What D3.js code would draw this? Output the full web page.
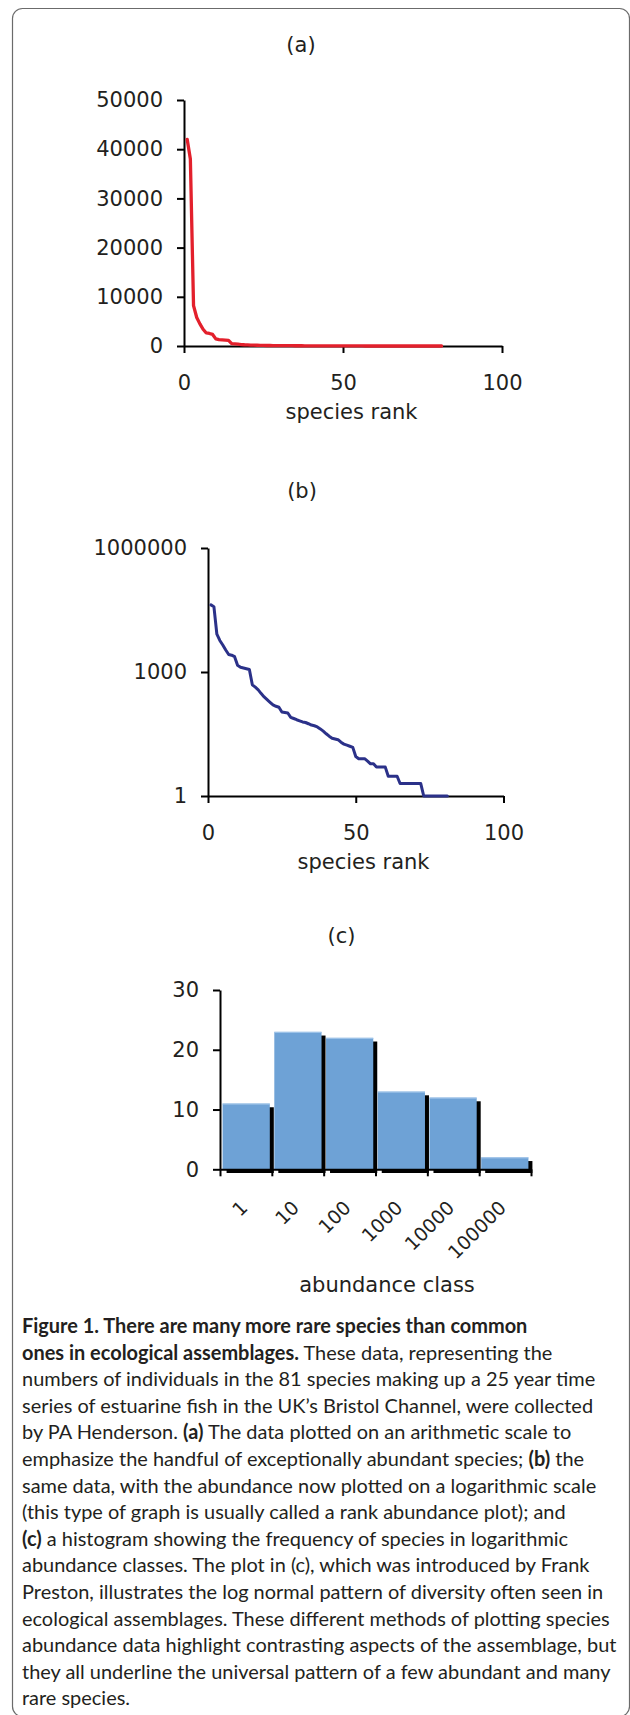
<!DOCTYPE html>
<html>
<head>
<meta charset="utf-8">
<script src="https://cdn.jsdelivr.net/npm/d3@7"></script>
<style>
  html, body { margin: 0; padding: 0; background: #fff; }
  svg { display: block; }
  .chart text { font-family: "DejaVu Sans", Verdana, sans-serif; fill: #231f20; }
  .caption text { font-family: Lato, "Noto Sans", sans-serif; fill: #231f20; white-space: pre; }
</style>
</head>
<body>
<div id="fig"></div>
<script>
// number of individuals per species, ranked (81 species)
const abundance = [42000, 38000, 8200, 5800, 4500, 3400, 2650, 2550, 2350, 1450,
  1300, 1250, 1200, 1150, 490, 430, 370, 300, 250, 215,
  185, 160, 148, 140, 108, 105, 102, 80, 75, 70,
  66, 62, 60, 56, 52, 50, 47, 42, 37, 32,
  28, 25, 24, 23, 20, 18, 17, 16, 15, 9,
  8, 8, 8, 7, 6, 6, 5, 5, 5, 5,
  3, 3, 3, 3, 2, 2, 2, 2, 2, 2,
  2, 2, 1, 1, 1, 1, 1, 1, 1, 1, 1];

// histogram of species per abundance class
const classLabels = ["1", "10", "100", "1000", "10000", "100000"];
const classCounts = [11, 23, 22, 13, 12, 2];

const rankTicks = [0, 50, 100];
const linTicks = [0, 10000, 20000, 30000, 40000, 50000];
const logTicks = [1, 1000, 1000000];
const countTicks = [0, 10, 20, 30];

const captionLines = [
  [["Figure 1. There are many more rare species than common", true]],
  [["ones in ecological assemblages.", true], [" These data, representing the", false]],
  [["numbers of individuals in the 81 species making up a 25 year time", false]],
  [["series of estuarine fish in the UK\u2019s Bristol Channel, were collected", false]],
  [["by PA Henderson. ", false], ["(a)", true], [" The data plotted on an arithmetic scale to", false]],
  [["emphasize the handful of exceptionally abundant species; ", false], ["(b)", true], [" the", false]],
  [["same data, with the abundance now plotted on a logarithmic scale", false]],
  [["(this type of graph is usually called a rank abundance plot); and", false]],
  [["(c)", true], [" a histogram showing the frequency of species in logarithmic", false]],
  [["abundance classes. The plot in (c), which was introduced by Frank", false]],
  [["Preston, illustrates the log normal pattern of diversity often seen in", false]],
  [["ecological assemblages. These different methods of plotting species", false]],
  [["abundance data highlight contrasting aspects of the assemblage, but", false]],
  [["they all underline the universal pattern of a few abundant and many", false]],
  [["rare species.", false]]
];

const W = 630, H = 1715;
const svg = d3.select("#fig").append("svg")
  .attr("width", W).attr("height", H)
  .attr("viewBox", `0 0 ${W} ${H}`);

// rounded frame, cut off at right and bottom
svg.append("rect")
  .attr("x", 12.5).attr("y", 8.5)
  .attr("width", 617).attr("height", 1708)
  .attr("rx", 10)
  .attr("fill", "none").attr("stroke", "#6b6b6b").attr("stroke-width", 1.2);

const chart = svg.append("g").attr("class", "chart");

function styleAxis(g, size) {
  g.attr("font-size", null).attr("font-family", null);
  g.selectAll(".domain, .tick line").attr("stroke", "#000").attr("stroke-width", 2);
  g.selectAll(".tick text").attr("font-size", size || 21);
}

function title(txt, x, y) {
  chart.append("text").attr("x", x).attr("y", y)
    .attr("text-anchor", "middle").attr("font-size", 21).text(txt);
}

// ---------- (a) arithmetic scale ----------
const xA = d3.scaleLinear().domain([0, 100]).range([184, 502]);
const yA = d3.scaleLinear().domain([0, 50000]).range([346, 100]);

title("(a)", 301, 51.5);

chart.append("g").attr("transform", `translate(0,${yA(0)})`)
  .call(d3.axisBottom(xA).tickValues(rankTicks).tickSize(7).tickPadding(22).tickSizeOuter(0))
  .call(styleAxis);
chart.append("g").attr("transform", `translate(${xA(0)},0)`)
  .call(d3.axisLeft(yA).tickValues(linTicks).tickSize(7).tickPadding(14).tickSizeOuter(0).tickFormat(d3.format("d")))
  .call(styleAxis);

chart.append("path")
  .datum(abundance)
  .attr("fill", "none").attr("stroke", "#e3202c").attr("stroke-width", 3.3)
  .attr("stroke-linejoin", "round").attr("stroke-linecap", "round")
  .attr("d", d3.line().x((d, i) => xA(i + 1)).y(d => yA(d)));

title("species rank", 351.5, 419);

// ---------- (b) logarithmic scale ----------
const xB = d3.scaleLinear().domain([0, 100]).range([208, 503.5]);
const yB = d3.scaleLog().domain([1, 1000000]).range([796, 548]);

title("(b)", 302, 498);

chart.append("g").attr("transform", `translate(0,${yB(1)})`)
  .call(d3.axisBottom(xB).tickValues(rankTicks).tickSize(7).tickPadding(22).tickSizeOuter(0))
  .call(styleAxis);
chart.append("g").attr("transform", `translate(${xB(0)},0)`)
  .call(d3.axisLeft(yB).tickValues(logTicks).tickSize(7).tickPadding(14).tickSizeOuter(0).tickFormat(d3.format("d")))
  .call(styleAxis);

chart.append("path")
  .datum(abundance)
  .attr("fill", "none").attr("stroke", "#2b3189").attr("stroke-width", 3)
  .attr("stroke-linejoin", "round").attr("stroke-linecap", "round")
  .attr("d", d3.line().x((d, i) => xB(i + 1)).y(d => yB(d)));

title("species rank", 363.5, 869);

// ---------- (c) histogram ----------
const xC = d3.scaleBand().domain(classLabels).range([220, 531]).paddingInner(0.087).paddingOuter(0.05);
const xCedge = d3.scaleLinear().domain([0, classLabels.length]).range([220, 531]);
const yC = d3.scaleLinear().domain([0, 30]).range([1169.3, 990]);
const bars = classLabels.map((c, i) => ({ c, v: classCounts[i] }));

title("(c)", 341.5, 943);

// drop shadows
chart.append("g").selectAll("rect")
  .data(bars).join("rect")
  .attr("x", d => xC(d.c) + 4).attr("y", d => yC(d.v) + 3.7)
  .attr("width", xC.bandwidth()).attr("height", d => yC(0) - yC(d.v))
  .attr("fill", "#000");

chart.append("g").selectAll("rect")
  .data(bars).join("rect")
  .attr("x", d => xC(d.c)).attr("y", d => yC(d.v))
  .attr("width", xC.bandwidth()).attr("height", d => yC(0) - yC(d.v))
  .attr("fill", "#6ea2d6");

chart.append("g").selectAll("line")
  .data(bars).join("line")
  .attr("x1", d => xC(d.c)).attr("x2", d => xC(d.c) + xC.bandwidth())
  .attr("y1", d => yC(d.v) + 0.5).attr("y2", d => yC(d.v) + 0.5)
  .attr("stroke", "#a7c9ec").attr("stroke-width", 1);

chart.append("g").attr("transform", `translate(0,${yC(0)})`)
  .call(d3.axisBottom(xCedge).tickValues(d3.range(classLabels.length + 1)).tickSize(7).tickSizeOuter(0).tickFormat(""))
  .call(styleAxis);
chart.append("g").attr("transform", `translate(${xCedge(0)},0)`)
  .call(d3.axisLeft(yC).tickValues(countTicks).tickSize(7).tickPadding(14).tickSizeOuter(0))
  .call(styleAxis);

chart.append("g").selectAll("text")
  .data(classLabels).join("text")
  .attr("text-anchor", "end")
  .attr("font-size", 19)
  .attr("transform", d => `translate(${xC(d) + xC.bandwidth() / 2 + 2.5},1209) rotate(-45)`)
  .text(d => d);

title("abundance class", 387, 1292);

// ---------- caption ----------
const cap = svg.append("g").attr("class", "caption");
const capX = 22, capY0 = 1333, capStep = 26.6;
const capText = cap.selectAll("text")
  .data(captionLines).join("text")
  .attr("x", capX)
  .attr("y", (d, i) => capY0 + i * capStep)
  .attr("font-size", 17);
capText.selectAll("tspan")
  .data(d => d).join("tspan")
  .attr("font-weight", d => d[1] ? 700 : 400)
  .text(d => d[0]);

// fit the longest line to the width it has in the figure
const ref = capText.nodes()[12].getComputedTextLength();
const fs = 17 * 595 / ref;
capText.attr("font-size", fs);
</script>
</body>
</html>
